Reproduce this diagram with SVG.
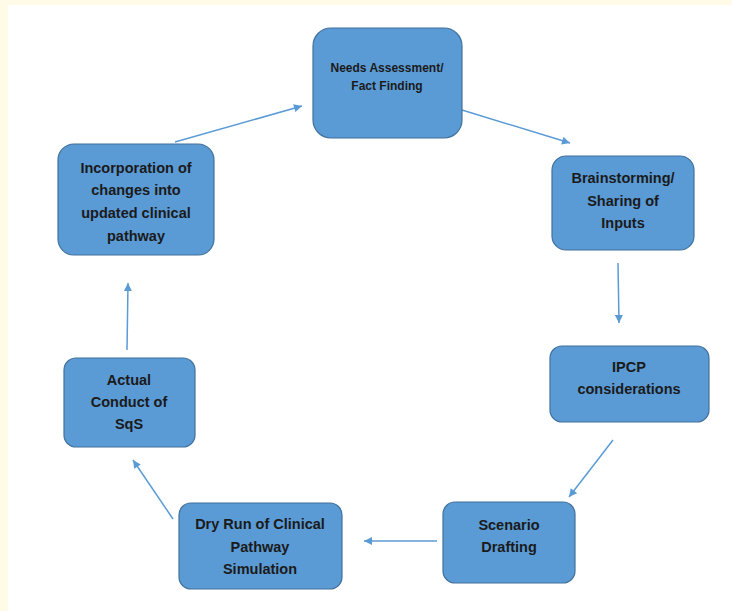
<svg xmlns="http://www.w3.org/2000/svg" width="732" height="611" viewBox="0 0 732 611">
<defs>
<style>
.box{fill:#5B9BD5;stroke:#41719C;stroke-width:1.2}
.t{font-family:"Liberation Sans",Arial,sans-serif;font-weight:bold;font-size:14.5px;fill:#1a1a1a;text-anchor:middle}
.ts{font-size:12px}
.c{stroke:#5B9BD5;stroke-width:1.5;fill:none;marker-end:url(#ah)}
</style>
<marker id="ah" viewBox="0 0 10 10" refX="10" refY="5" markerWidth="9" markerHeight="8" markerUnits="userSpaceOnUse" orient="auto">
<path d="M0,0 L10,5 L0,10 z" fill="#5B9BD5"/>
</marker>
</defs>
<rect x="0" y="0" width="732" height="611" fill="#FFFBE6"/>
<rect x="8" y="5" width="724" height="606" fill="#FFFFFF"/>
<g id="connectors">
<line class="c" x1="175" y1="142" x2="302" y2="106"/>
<line class="c" x1="462" y1="110" x2="570" y2="143"/>
<line class="c" x1="618" y1="263" x2="619" y2="323"/>
<line class="c" x1="613" y1="440" x2="569" y2="497"/>
<line class="c" x1="437" y1="541" x2="364" y2="541"/>
<line class="c" x1="173" y1="519" x2="133" y2="460"/>
<line class="c" x1="127" y1="350" x2="128" y2="283"/>
</g>
<g id="needs">
<rect class="box" x="313" y="28" width="149" height="110" rx="18"/>
<text class="t ts" x="387" y="72">Needs Assessment/</text>
<text class="t ts" x="387" y="90">Fact Finding</text>
</g>
<g id="brainstorming">
<rect class="box" x="552" y="156" width="142" height="94" rx="14"/>
<text class="t" x="623" y="183">Brainstorming/</text>
<text class="t" x="623" y="206">Sharing of</text>
<text class="t" x="623" y="228">Inputs</text>
</g>
<g id="ipcp">
<rect class="box" x="550" y="346" width="159" height="76" rx="12"/>
<text class="t" x="629" y="372">IPCP</text>
<text class="t" x="629" y="394">considerations</text>
</g>
<g id="scenario">
<rect class="box" x="443" y="502" width="132" height="81" rx="12"/>
<text class="t" x="509" y="530">Scenario</text>
<text class="t" x="509" y="552">Drafting</text>
</g>
<g id="dryrun">
<rect class="box" x="179" y="503" width="163" height="86" rx="12"/>
<text class="t" x="260" y="529">Dry Run of Clinical</text>
<text class="t" x="260" y="552">Pathway</text>
<text class="t" x="260" y="574">Simulation</text>
</g>
<g id="actual">
<rect class="box" x="64" y="358" width="131" height="89" rx="12"/>
<text class="t" x="129" y="385">Actual</text>
<text class="t" x="129" y="407">Conduct of</text>
<text class="t" x="129" y="429">SqS</text>
</g>
<g id="incorporation">
<rect class="box" x="58" y="144" width="156" height="111" rx="16"/>
<text class="t" x="136" y="173">Incorporation of</text>
<text class="t" x="136" y="195">changes into</text>
<text class="t" x="136" y="218">updated clinical</text>
<text class="t" x="136" y="241">pathway</text>
</g>
</svg>
